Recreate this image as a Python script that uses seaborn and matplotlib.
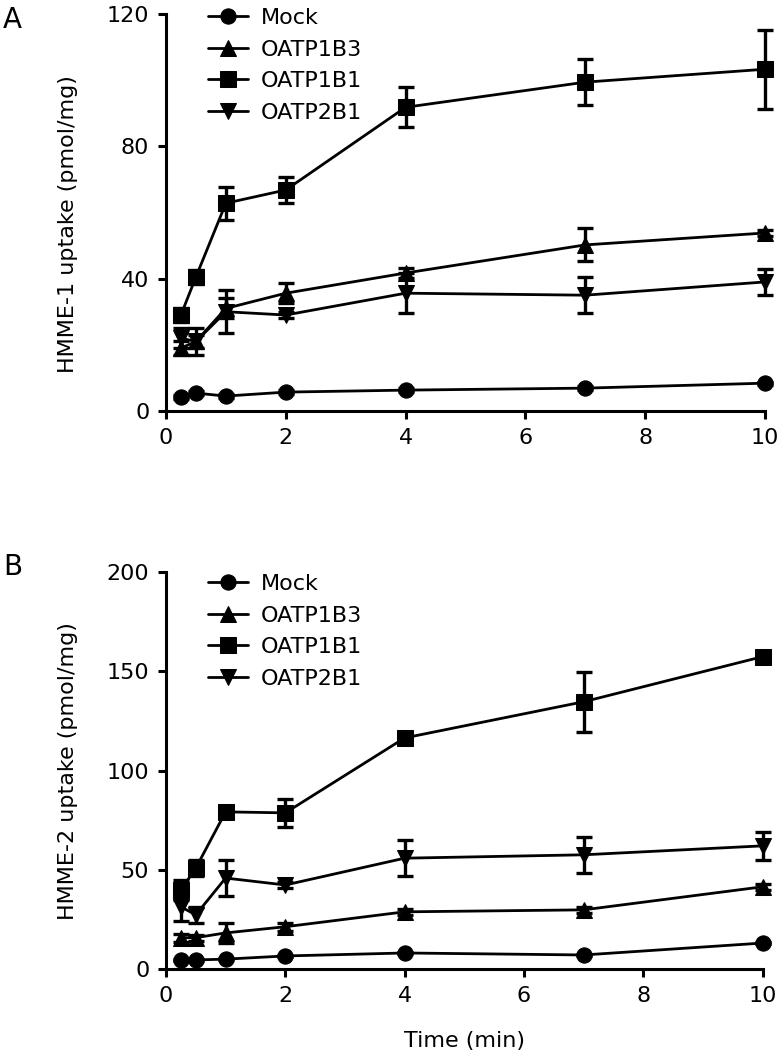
import numpy as np
import pandas as pd
import seaborn as sns
import matplotlib.pyplot as plt

# -------------------------------------------------------------------
# Data
# -------------------------------------------------------------------
TIME = [0.25, 0.5, 1, 2, 4, 7, 10]
SERIES = ["Mock", "OATP1B3", "OATP1B1", "OATP2B1"]

# Panel A: HMME-1
mock_a = [4.2, 5.4, 4.5, 5.7, 6.3, 6.9, 8.4]
mock_a_err = [0.5, 0.5, 0.5, 0.5, 0.5, 0.5, 0.5]
oatp1b3_a = [19, 21, 31, 35.6, 41.7, 50.2, 53.8]
oatp1b3_a_err = [2, 2, 3, 3, 1.5, 5, 1]
oatp1b1_a = [29, 40.5, 62.8, 66.8, 91.8, 99.4, 103.3]
oatp1b1_a_err = [2, 2, 5, 4, 6, 7, 12]
oatp2b1_a = [22, 21, 30, 29, 35.6, 35, 39]
oatp2b1_a_err = [3, 4, 6.5, 1, 6, 5.5, 3.8]

# Panel B: HMME-2
mock_b = [4.8, 4.8, 5.2, 6.8, 8.3, 7.3, 13.3]
mock_b_err = [0.5, 0.5, 0.5, 0.5, 0.5, 0.5, 0.5]
oatp1b3_b = [16, 16, 18.4, 21.5, 29, 30, 41.6]
oatp1b3_b_err = [2, 1.5, 5, 2, 1.5, 1.5, 1.5]
oatp1b1_b = [40, 51, 79.3, 78.8, 116.5, 134.7, 157.4]
oatp1b1_b_err = [5, 4, 2, 7, 3, 15, 2]
oatp2b1_b = [31.5, 27.5, 46, 42.5, 56, 57.7, 62.2]
oatp2b1_b_err = [7, 4, 9, 1.5, 9, 9, 7]

MARKERS = {"Mock": "o", "OATP1B3": "^", "OATP1B1": "s", "OATP2B1": "v"}

sns.set_theme(style="ticks", rc={"text.color": "black", "axes.labelcolor": "black",
                                 "xtick.color": "black", "ytick.color": "black",
                                 "axes.edgecolor": "black"})
plt.rcParams["font.family"] = ["DejaVu Sans"]


def _long(values, errors):
    rows = []
    for name, vals, errs in zip(SERIES, values, errors):
        for t, v, e in zip(TIME, vals, errs):
            rows.append({"time": t, "uptake": v, "err": e, "transporter": name})
    return pd.DataFrame(rows)


def draw_panel(ax, df, ymax, yticks, ylabel, legend_y, label_y):
    sns.lineplot(
        data=df, x="time", y="uptake",
        hue="transporter", style="transporter",
        hue_order=SERIES, style_order=SERIES,
        markers=MARKERS, dashes=False,
        palette=["black"] * 4,
        markersize=11, markeredgecolor="black", linewidth=2.0,
        errorbar=None, clip_on=False, ax=ax, zorder=3,
    )
    for name in SERIES:
        sub = df[df["transporter"] == name]
        ax.errorbar(
            sub["time"], sub["uptake"], yerr=sub["err"], fmt="none",
            ecolor="black", elinewidth=2.4, capsize=6, capthick=2.4,
            clip_on=False, zorder=2,
        )

    ax.set_xlim(0, 10)
    ax.set_ylim(0, ymax)
    ax.set_xticks([0, 2, 4, 6, 8, 10])
    ax.set_yticks(yticks)
    sns.despine(ax=ax)
    for side in ["left", "bottom"]:
        ax.spines[side].set_linewidth(2.2)
        ax.spines[side].set_color("black")
    ax.tick_params(axis="both", direction="out", length=6, width=2.2,
                   labelsize=16, pad=6, colors="black")
    ax.set_ylabel(ylabel, fontsize=16, color="black")
    ax.yaxis.set_label_coords(-0.147, label_y)
    ax.set_xlabel("")

    handles, labels = ax.get_legend_handles_labels()
    leg = ax.legend(handles, labels, loc="upper left", bbox_to_anchor=(0.07, legend_y),
                    frameon=False, fontsize=16, handlelength=1.8, handletextpad=0.6,
                    labelspacing=0.52, borderpad=0, borderaxespad=0)
    for txt in leg.get_texts():
        txt.set_color("black")


fig = plt.figure(figsize=(7.81, 10.6), dpi=100)
ax_a = fig.add_axes([0.2125, 0.6123, 0.767, 0.3745])
ax_b = fig.add_axes([0.2125, 0.0854, 0.764, 0.375])

df_a = _long([mock_a, oatp1b3_a, oatp1b1_a, oatp2b1_a],
             [mock_a_err, oatp1b3_a_err, oatp1b1_a_err, oatp2b1_a_err])
df_b = _long([mock_b, oatp1b3_b, oatp1b1_b, oatp2b1_b],
             [mock_b_err, oatp1b3_b_err, oatp1b1_b_err, oatp2b1_b_err])

draw_panel(ax_a, df_a, 120, [0, 40, 80, 120], "HMME-1 uptake (pmol/mg)", 1.015, 0.47)
draw_panel(ax_b, df_b, 200, [0, 50, 100, 150, 200], "HMME-2 uptake (pmol/mg)", 0.995, 0.5)

ax_b.set_xlabel("Time (min)", fontsize=16, color="black")
ax_b.xaxis.set_label_coords(0.5, -0.155)

fig.text(0.004, 1 - 20 / 1060, "A", fontsize=20, va="center", ha="left", color="black")
fig.text(0.004, 1 - 567 / 1060, "B", fontsize=20, va="center", ha="left", color="black")

fig.savefig("out.png", dpi=100)
plt.close(fig)
